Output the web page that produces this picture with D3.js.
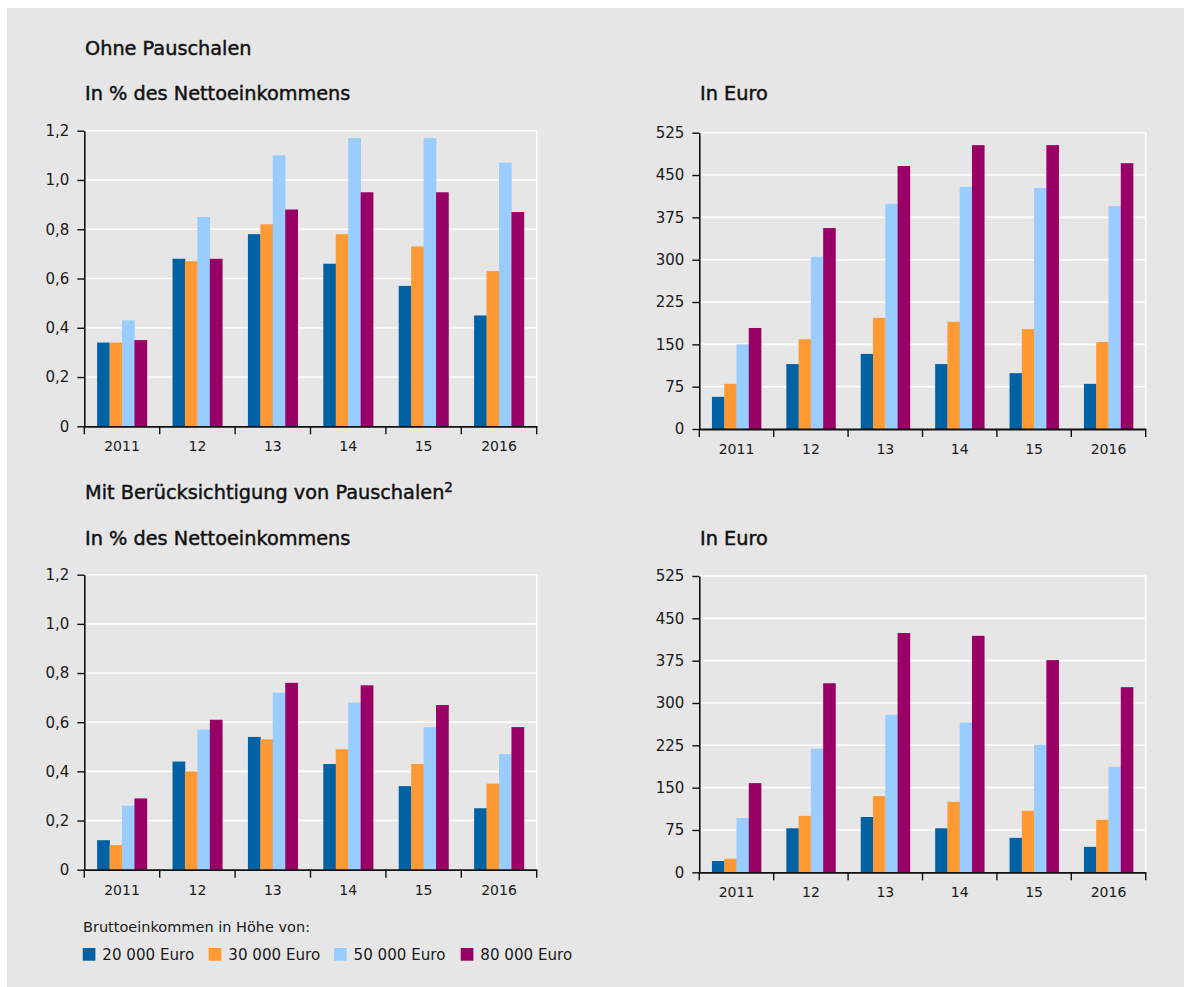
<!DOCTYPE html>
<html>
<head>
<meta charset="utf-8">
<script src="https://cdn.jsdelivr.net/npm/d3@7"></script>
<style>
  html, body { margin: 0; padding: 0; background: #ffffff; }
  svg { display: block; }
  .title { font-family: "DejaVu Sans", sans-serif; font-size: 19.3px; fill: #111; stroke: #111; stroke-width: 0.45px; }
  .ytick text { font-family: "DejaVu Sans", sans-serif; font-size: 15px; fill: #1a1a1a; }
  .xtick text { font-family: "DejaVu Sans", sans-serif; font-size: 14px; fill: #1a1a1a; }
  .legend { font-family: "DejaVu Sans", sans-serif; font-size: 14.5px; fill: #1a1a1a; }
  .legend.item-label { font-size: 15.1px; }
</style>
</head>
<body>
<div id="chart"></div>
<script>
// Categories and series
const years = ["2011", "12", "13", "14", "15", "2016"];
const seriesNames = ["20 000 Euro", "30 000 Euro", "50 000 Euro", "80 000 Euro"];
const seriesColors = ["#0062a3", "#ff9933", "#99ccff", "#990066"];

// Tick values and labels
const pctTicks = [0, 0.2, 0.4, 0.6, 0.8, 1.0, 1.2];
const pctTickLabels = ["0", "0,2", "0,4", "0,6", "0,8", "1,0", "1,2"];
const euroTicks = [0, 75, 150, 225, 300, 375, 450, 525];
const euroTickLabels = ["0", "75", "150", "225", "300", "375", "450", "525"];

// Ohne Pauschalen, in % des Nettoeinkommens
const ohnePct20 = [0.34, 0.68, 0.78, 0.66, 0.57, 0.45];
const ohnePct30 = [0.34, 0.67, 0.82, 0.78, 0.73, 0.63];
const ohnePct50 = [0.43, 0.85, 1.10, 1.17, 1.17, 1.07];
const ohnePct80 = [0.35, 0.68, 0.88, 0.95, 0.95, 0.87];

// Ohne Pauschalen, in Euro
const ohneEur20 = [57, 115, 133, 115, 99, 80];
const ohneEur30 = [80, 159, 197, 190, 177, 154];
const ohneEur50 = [150, 305, 399, 429, 427, 395];
const ohneEur80 = [179, 356, 466, 503, 503, 471];

// Mit Berücksichtigung von Pauschalen, in % des Nettoeinkommens
const mitPct20 = [0.12, 0.44, 0.54, 0.43, 0.34, 0.25];
const mitPct30 = [0.10, 0.40, 0.53, 0.49, 0.43, 0.35];
const mitPct50 = [0.26, 0.57, 0.72, 0.68, 0.58, 0.47];
const mitPct80 = [0.29, 0.61, 0.76, 0.75, 0.67, 0.58];

// Mit Berücksichtigung von Pauschalen, in Euro
const mitEur20 = [20, 78, 98, 78, 61, 45];
const mitEur30 = [24, 100, 135, 125, 109, 93];
const mitEur50 = [96, 219, 279, 265, 226, 187];
const mitEur80 = [158, 335, 424, 419, 376, 328];

const W = 1184, H = 987;
const svg = d3.select("#chart").append("svg").attr("width", W).attr("height", H);

svg.append("rect").attr("x", 7).attr("y", 8).attr("width", W - 7).attr("height", H - 8).attr("fill", "#e6e6e6");

const PAD_IN = 0.34, PAD_OUT = 0.17;

function drawPanel(box, maxV, ticks, tickLabels, seriesData) {
  const g = svg.append("g");
  const y = d3.scaleLinear().domain([0, maxV]).range([box.y0, box.yTop]);
  const x = d3.scaleBand().domain(years).range([box.x0, box.x1]).paddingInner(PAD_IN).paddingOuter(PAD_OUT);
  const xs = d3.scaleBand().domain(d3.range(seriesData.length)).range([0, x.bandwidth()]);

  // white gridlines and right frame
  g.append("g").selectAll("line").data(ticks.filter(t => t > 0)).join("line")
    .attr("x1", box.x0).attr("x2", box.x1)
    .attr("y1", d => y(d)).attr("y2", d => y(d))
    .attr("stroke", "#ffffff").attr("stroke-width", 1.6);
  g.append("line").attr("x1", box.x1).attr("x2", box.x1)
    .attr("y1", y(maxV)).attr("y2", box.y0)
    .attr("stroke", "#ffffff").attr("stroke-width", 1.6);

  // bars
  seriesData.forEach((vals, si) => {
    g.append("g").selectAll("rect").data(vals).join("rect")
      .attr("x", (d, i) => x(years[i]) + xs(si))
      .attr("width", xs.bandwidth() + 0.3)
      .attr("y", d => y(d))
      .attr("height", d => box.y0 - y(d))
      .attr("fill", seriesColors[si]);
  });

  // y axis
  const ya = g.append("g").attr("class", "ytick").attr("transform", `translate(${box.x0},0)`)
    .call(d3.axisLeft(y).tickValues(ticks).tickFormat((d, i) => tickLabels[i]).tickSize(7).tickPadding(8).tickSizeOuter(0));
  ya.select(".domain").attr("stroke", "#111").attr("stroke-width", 1.6);
  ya.selectAll(".tick line").attr("stroke", "#111").attr("stroke-width", 1.4);

  // x axis: labels centred on categories, ticks at category boundaries
  const xa = g.append("g").attr("class", "xtick").attr("transform", `translate(0,${box.y0})`)
    .call(d3.axisBottom(x).tickSize(0).tickPadding(15).tickSizeOuter(0));
  xa.select(".domain").attr("stroke", "#111").attr("stroke-width", 1.8);
  const bounds = years.map(d => x(d) - x.step() * PAD_OUT).concat([box.x1]);
  g.append("g").selectAll("line").data(bounds).join("line")
    .attr("x1", d => d).attr("x2", d => d)
    .attr("y1", box.y0).attr("y2", box.y0 + 8)
    .attr("stroke", "#111").attr("stroke-width", 1.4);
}

drawPanel({ x0: 84.3, x1: 536.7, yTop: 130.7, y0: 426.3 }, 1.2, pctTicks, pctTickLabels,
  [ohnePct20, ohnePct30, ohnePct50, ohnePct80]);
drawPanel({ x0: 699.3, x1: 1145.7, yTop: 132.7, y0: 429 }, 525, euroTicks, euroTickLabels,
  [ohneEur20, ohneEur30, ohneEur50, ohneEur80]);
drawPanel({ x0: 84.3, x1: 536.7, yTop: 574.7, y0: 869.7 }, 1.2, pctTicks, pctTickLabels,
  [mitPct20, mitPct30, mitPct50, mitPct80]);
drawPanel({ x0: 699.3, x1: 1145.7, yTop: 576, y0: 872.3 }, 525, euroTicks, euroTickLabels,
  [mitEur20, mitEur30, mitEur50, mitEur80]);

// headings
const titles = svg.append("g");
titles.append("text").attr("class", "title").attr("x", 85).attr("y", 55).text("Ohne Pauschalen");
titles.append("text").attr("class", "title").attr("x", 85).attr("y", 100).text("In % des Nettoeinkommens");
titles.append("text").attr("class", "title").attr("x", 700).attr("y", 100).text("In Euro");
const mit = titles.append("text").attr("class", "title").attr("x", 85).attr("y", 499);
mit.append("tspan").text("Mit Berücksichtigung von Pauschalen");
mit.append("tspan").attr("dy", -7).style("font-size", "13.5px").text("2");
titles.append("text").attr("class", "title").attr("x", 85).attr("y", 545).text("In % des Nettoeinkommens");
titles.append("text").attr("class", "title").attr("x", 700).attr("y", 545).text("In Euro");

// legend
const lg = svg.append("g");
lg.append("text").attr("class", "legend").attr("x", 83).attr("y", 932).text("Bruttoeinkommen in Höhe von:");
const legendX = [82.7, 208.7, 334, 460.7];
const items = lg.selectAll("g.item").data(seriesNames).join("g").attr("class", "item")
  .attr("transform", (d, i) => `translate(${legendX[i]},948)`);
items.append("rect").attr("width", 12.7).attr("height", 12.7).attr("fill", (d, i) => seriesColors[i]);
items.append("text").attr("class", "legend item-label").attr("x", 19.6).attr("y", 11.5).text(d => d);
</script>
</body>
</html>
